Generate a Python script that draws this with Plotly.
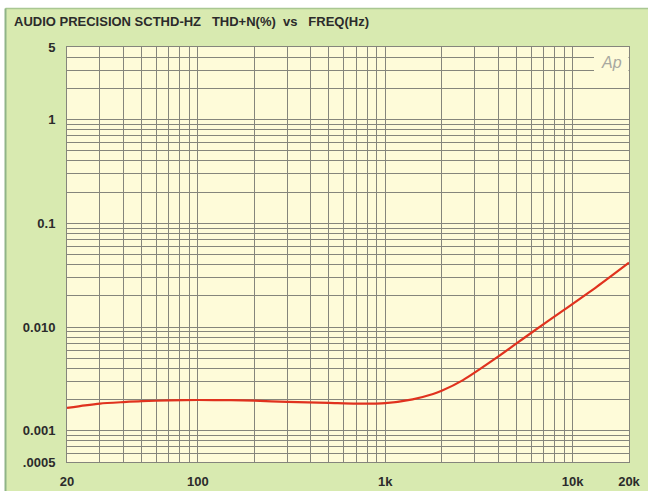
import plotly.graph_objects as go

# ---- data ----
freq_hz = [20, 25, 30, 40, 50, 70, 100, 150, 200, 300, 500, 700, 1000, 1400,
           1800, 2000, 2600, 4000, 6000, 9000, 13500, 20000]
thd_pct = [0.00166, 0.00176, 0.00183, 0.00189, 0.00193, 0.00196, 0.00198,
           0.00197, 0.00195, 0.00190, 0.00186, 0.00183, 0.00185, 0.00201,
           0.00226, 0.00243, 0.00308, 0.00518, 0.00876, 0.0146, 0.0245, 0.0417]

x_grid = [20, 30, 40, 50, 60, 70, 80, 90, 100, 200, 300, 400, 500, 600, 700,
          800, 900, 1000, 2000, 3000, 4000, 5000, 6000, 7000, 8000, 9000,
          10000, 20000]
x_labels = {20: "20", 100: "100", 1000: "1k", 10000: "10k", 20000: "20k"}

y_grid = [0.0005, 0.0006, 0.0007, 0.0008, 0.0009, 0.001, 0.002, 0.003, 0.004,
          0.005, 0.006, 0.007, 0.008, 0.009, 0.01, 0.02, 0.03, 0.04, 0.05,
          0.06, 0.07, 0.08, 0.09, 0.1, 0.2, 0.3, 0.4, 0.5, 0.6, 0.7, 0.8, 0.9,
          1, 2, 3, 4, 5]
y_labels = {0.0005: ".0005", 0.001: "0.001", 0.01: "0.010", 0.1: "0.1",
            1: "1", 5: "5"}

title_text = "AUDIO PRECISION SCTHD-HZ   THD+N(%)  vs   FREQ(Hz)"

W, H = 648, 491
L, R, T, B = 67, 629, 47, 462

GREEN = "#d8eab0"
PLOTBG = "#fefbd9"
GRID = "#85857c"
TXT = "#2b2b2b"

fig = go.Figure()
fig.add_trace(go.Scatter(
    x=freq_hz, y=thd_pct, mode="lines",
    line=dict(color="#e0321e", width=2.2, shape="spline", smoothing=0.7),
    hoverinfo="skip", showlegend=False))

font_ticks = dict(family="Liberation Sans, Arial, sans-serif", size=13,
                  color=TXT, weight="bold")

fig.update_layout(
    width=W, height=H,
    margin=dict(l=L, r=W - R, t=T, b=H - B, pad=0, autoexpand=False),
    paper_bgcolor=GREEN, plot_bgcolor=PLOTBG,
    xaxis=dict(type="log", range=[1.30103, 4.30103],
               tickvals=x_grid,
               ticktext=[x_labels.get(v, "") for v in x_grid],
               showgrid=True, gridcolor=GRID, gridwidth=1,
               showline=True, linecolor=GRID, linewidth=1, mirror=True,
               ticks="", tickfont=font_ticks, ticklabelstandoff=7,
               zeroline=False, fixedrange=True, automargin=False),
    yaxis=dict(type="log", range=[-3.30103, 0.69897],
               tickvals=y_grid,
               ticktext=[y_labels.get(v, "") for v in y_grid],
               showgrid=True, gridcolor=GRID, gridwidth=1,
               showline=True, linecolor=GRID, linewidth=1, mirror=True,
               ticks="", tickfont=font_ticks, ticklabelstandoff=8,
               zeroline=False, fixedrange=True, automargin=False),
)

pw, ph = R - L, B - T
def px(xp):
    return (xp - L) / pw
def py(yp):
    return (B - yp) / ph

shapes = [
    # white outer strips
    dict(type="rect", xref="paper", yref="paper", x0=px(0), x1=px(W), y0=py(8), y1=py(0),
         fillcolor="#ffffff", line=dict(width=0), layer="above"),
    dict(type="rect", xref="paper", yref="paper", x0=px(0), x1=px(5), y0=py(H), y1=py(0),
         fillcolor="#ffffff", line=dict(width=0), layer="above"),
    # panel border lines
    dict(type="line", xref="paper", yref="paper", x0=px(5.5), x1=px(W), y0=py(8.5), y1=py(8.5),
         line=dict(color="#a9c792", width=1.5), layer="above"),
    dict(type="line", xref="paper", yref="paper", x0=px(5.5), x1=px(5.5), y0=py(8.5), y1=py(H),
         line=dict(color="#8fb487", width=2), layer="above"),
    # Ap logo box
    dict(type="rect", xref="paper", yref="paper", x0=px(594), x1=px(628.5), y0=py(76), y1=py(47.5),
         fillcolor=PLOTBG, line=dict(width=0), layer="above"),
]
fig.update_layout(shapes=shapes)

fig.add_annotation(xref="paper", yref="paper", x=px(12), y=py(22),
                   xanchor="left", yanchor="middle", showarrow=False,
                   text="<b>" + title_text + "</b>",
                   font=dict(family="Liberation Sans, Arial, sans-serif",
                             size=13, color=TXT))
fig.add_annotation(xref="paper", yref="paper", x=px(611), y=py(62),
                   xanchor="center", yanchor="middle", showarrow=False,
                   text="<i>Ap</i>",
                   font=dict(family="Liberation Sans, Arial, sans-serif", size=16, color="#a8a8a0"))

fig.write_html("out.html")
